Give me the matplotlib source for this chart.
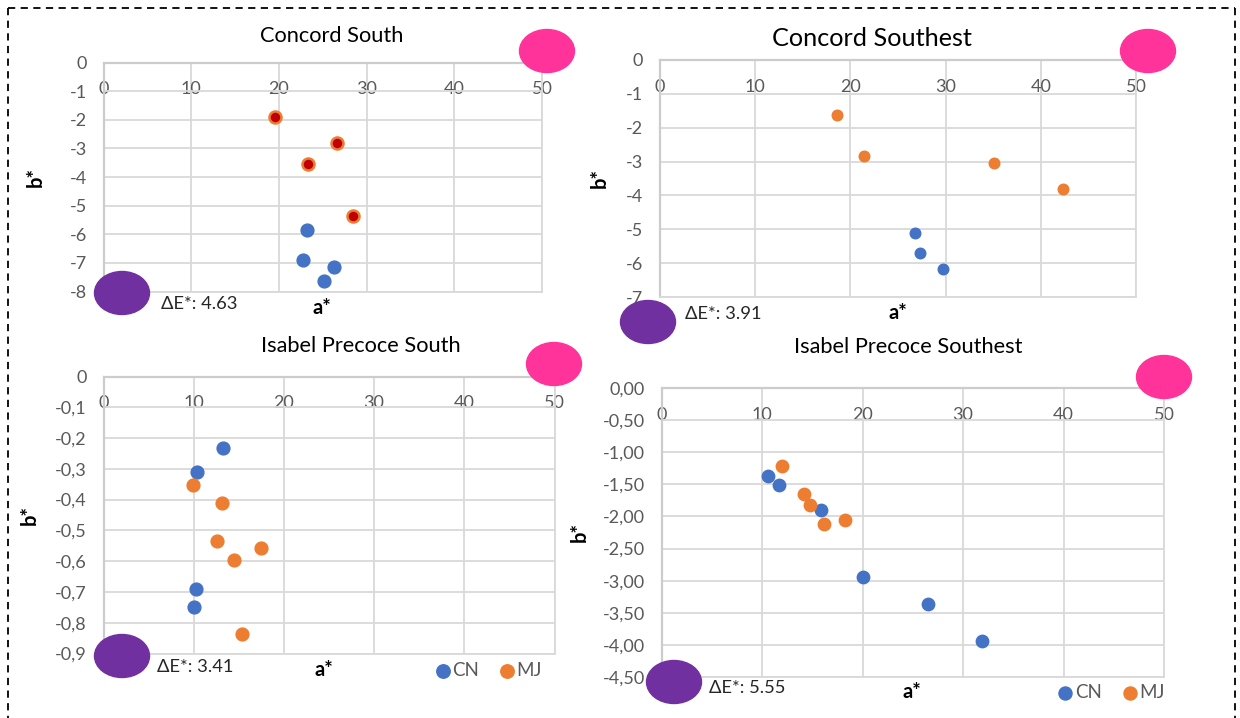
import matplotlib
matplotlib.use("Agg")
import matplotlib.pyplot as plt
from matplotlib.patches import Ellipse

plt.rcParams['font.family'] = ['Lato', 'DejaVu Sans']

W, H = 1240, 718

# ---- data (a*, b*) ----
cs_cn_a = [23.2, 22.8, 26.3, 25.1]
cs_cn_b = [-5.86, -6.91, -7.14, -7.62]
cs_mj_a = [19.5, 26.6, 23.3, 28.4]
cs_mj_b = [-1.91, -2.80, -3.54, -5.36]

cse_cn_a = [26.8, 27.3, 29.7]
cse_cn_b = [-5.11, -5.71, -6.16]
cse_mj_a = [18.6, 21.4, 35.1, 42.3]
cse_mj_b = [-1.63, -2.85, -3.03, -3.80]

ips_cn_a = [13.2, 10.4, 10.2, 10.0]
ips_cn_b = [-0.233, -0.311, -0.690, -0.750]
ips_mj_a = [9.9, 13.1, 12.6, 17.5, 14.5, 15.3]
ips_mj_b = [-0.352, -0.412, -0.534, -0.556, -0.597, -0.837]

ipse_cn_a = [10.6, 11.7, 15.9, 20.0, 26.5, 31.9]
ipse_cn_b = [-1.37, -1.51, -1.90, -2.95, -3.36, -3.94]
ipse_mj_a = [12.0, 14.2, 14.8, 16.2, 18.3]
ipse_mj_b = [-1.22, -1.65, -1.82, -2.12, -2.06]

titles = ["Concord South", "Concord Southest",
          "Isabel Precoce South", "Isabel Precoce Southest"]
delta_e = ["4.63", "3.91", "3.41", "5.55"]
series_names = ["CN", "MJ"]

x_ticks = [0, 10, 20, 30, 40, 50]
cs_y_ticks = [0, -1, -2, -3, -4, -5, -6, -7, -8]
cs_y_labels = ["0", "-1", "-2", "-3", "-4", "-5", "-6", "-7", "-8"]
cse_y_ticks = [0, -1, -2, -3, -4, -5, -6, -7]
cse_y_labels = ["0", "-1", "-2", "-3", "-4", "-5", "-6", "-7"]
ips_y_ticks = [0, -0.1, -0.2, -0.3, -0.4, -0.5, -0.6, -0.7, -0.8, -0.9]
ips_y_labels = ["0", "-0,1", "-0,2", "-0,3", "-0,4", "-0,5", "-0,6", "-0,7", "-0,8", "-0,9"]
ipse_y_ticks = [0, -0.5, -1.0, -1.5, -2.0, -2.5, -3.0, -3.5, -4.0, -4.5]
ipse_y_labels = ["0,00", "-0,50", "-1,00", "-1,50", "-2,00", "-2,50",
                 "-3,00", "-3,50", "-4,00", "-4,50"]

# ---- colours ----
BLUE = '#4472c4'
ORANGE = '#ed7d31'
DARKRED = '#c00000'
GRID = '#d9d9d9'
AXIS = '#cccccc'
TICK = '#595959'
PINK = '#ff3399'
PURPLE = '#7030a0'

TICK_SIZE = 13

fig = plt.figure(figsize=(W / 100, H / 100), dpi=100)
fig.patch.set_facecolor('white')


def px_axes(left, top, right, bottom):
    return fig.add_axes([left / W, 1 - bottom / H, (right - left) / W, (bottom - top) / H])


def style_axes(ax, yticks, ylabels):
    ax.set_xlim(0, 50)
    ax.set_ylim(yticks[-1], 0)
    ax.set_xticks(x_ticks)
    ax.set_xticklabels([str(t) for t in x_ticks])
    ax.set_yticks(yticks)
    ax.set_yticklabels(ylabels)
    ax.grid(True, color=GRID, lw=1.3)
    ax.set_axisbelow(True)
    for s in ax.spines.values():
        s.set_color(GRID)
        s.set_linewidth(1.3)
    ax.spines['top'].set_color(AXIS)
    ax.spines['left'].set_color(AXIS)
    ax.spines['top'].set_linewidth(1.6)
    ax.spines['left'].set_linewidth(1.6)
    ax.tick_params(axis='x', length=0, top=False, bottom=False, labeltop=True,
                   labelbottom=False, pad=-25, labelsize=TICK_SIZE, labelcolor=TICK)
    ax.tick_params(axis='y', length=0, pad=12, labelsize=TICK_SIZE, labelcolor=TICK)


def axis_labels(ax, bx, ax_x, ax_y):
    ax.set_ylabel("b*", fontsize=14.5, fontweight='bold')
    ax.yaxis.set_label_coords(bx, 0.5)
    ax.xaxis.set_label_position('bottom')
    ax.set_xlabel("a*", fontsize=14.5, fontweight='bold')
    ax.xaxis.label.set_va('center')
    ax.xaxis.set_label_coords(ax_x, ax_y)


# Concord South
ax1 = px_axes(103.5, 62.5, 542, 291.5)
style_axes(ax1, cs_y_ticks, cs_y_labels)
ax1.scatter(cs_cn_a, cs_cn_b, s=85, color=BLUE, zorder=3, clip_on=False)
ax1.scatter(cs_mj_a, cs_mj_b, s=75, facecolor=DARKRED, edgecolor=ORANGE,
            linewidth=1.8, zorder=3, clip_on=False)
axis_labels(ax1, -0.132, 0.499, -0.07)

# Concord Southest
ax2 = px_axes(660, 60, 1136, 297)
style_axes(ax2, cse_y_ticks, cse_y_labels)
ax2.scatter(cse_cn_a, cse_cn_b, s=58, color=BLUE, zorder=3, clip_on=False)
ax2.scatter(cse_mj_a, cse_mj_b, s=58, color=ORANGE, zorder=3, clip_on=False)
axis_labels(ax2, -0.105, 0.5, -0.068)

# Isabel Precoce South
ax3 = px_axes(103.5, 376.5, 554.5, 653.5)
style_axes(ax3, ips_y_ticks, ips_y_labels)
ax3.scatter(ips_cn_a, ips_cn_b, s=85, color=BLUE, zorder=3, clip_on=False, label=series_names[0])
ax3.scatter(ips_mj_a, ips_mj_b, s=85, color=ORANGE, zorder=3, clip_on=False, label=series_names[1])
axis_labels(ax3, -0.142, 0.489, -0.061)

# Isabel Precoce Southest
ax4 = px_axes(661.5, 388, 1164, 677)
style_axes(ax4, ipse_y_ticks, ipse_y_labels)
ax4.scatter(ipse_cn_a, ipse_cn_b, s=80, color=BLUE, zorder=3, clip_on=False, label=series_names[0])
ax4.scatter(ipse_mj_a, ipse_mj_b, s=80, color=ORANGE, zorder=3, clip_on=False, label=series_names[1])
axis_labels(ax4, -0.143, 0.499, -0.052)

for ax, (lx, ly) in [(ax3, (0.852, -0.061)), (ax4, (0.893, -0.055))]:
    ax.legend(loc='center', bbox_to_anchor=(lx, ly), ncol=2, frameon=False,
              handletextpad=0.0, columnspacing=1.0, fontsize=13.5,
              labelcolor=TICK, markerscale=1.05, borderpad=0, handlelength=1.0)

# overlay in pixel space: titles, colour swatches, dashed frame
ov = fig.add_axes([0, 0, 1, 1])
ov.set_xlim(0, W)
ov.set_ylim(H, 0)
ov.axis('off')
ov.patch.set_alpha(0)

title_pos = [(332, 36), (872, 39), (361, 346), (908, 347)]
title_size = [15.7, 18.2, 15.7, 15.7]
for t, (x, y), fs in zip(titles, title_pos, title_size):
    ov.text(x, y, t, ha='center', va='center', fontsize=fs, color='black')

de_pos = [(161, 304), (685, 314), (157, 667), (709, 688)]
for d, (x, y) in zip(delta_e, de_pos):
    ov.text(x, y, "ΔE*: " + d, ha='left', va='center', fontsize=13.2, color='#262626')

pink_pos = [(547, 51), (1148, 51), (554, 364), (1164, 377)]
purple_pos = [(122, 293), (648, 322), (122, 656), (674, 682)]
for x, y in pink_pos:
    ov.add_patch(Ellipse((x, y), 55, 43, color=PINK, zorder=5))
for x, y in purple_pos:
    ov.add_patch(Ellipse((x, y), 55, 43, color=PURPLE, zorder=5))

dash = dict(color='black', lw=1.3, ls=(0, (4, 3)))
ov.plot([8, 1235], [8, 8], **dash)
ov.plot([8, 8], [8, H], **dash)
ov.plot([1235, 1235], [8, H], **dash)

fig.savefig('out.png', dpi=100)
